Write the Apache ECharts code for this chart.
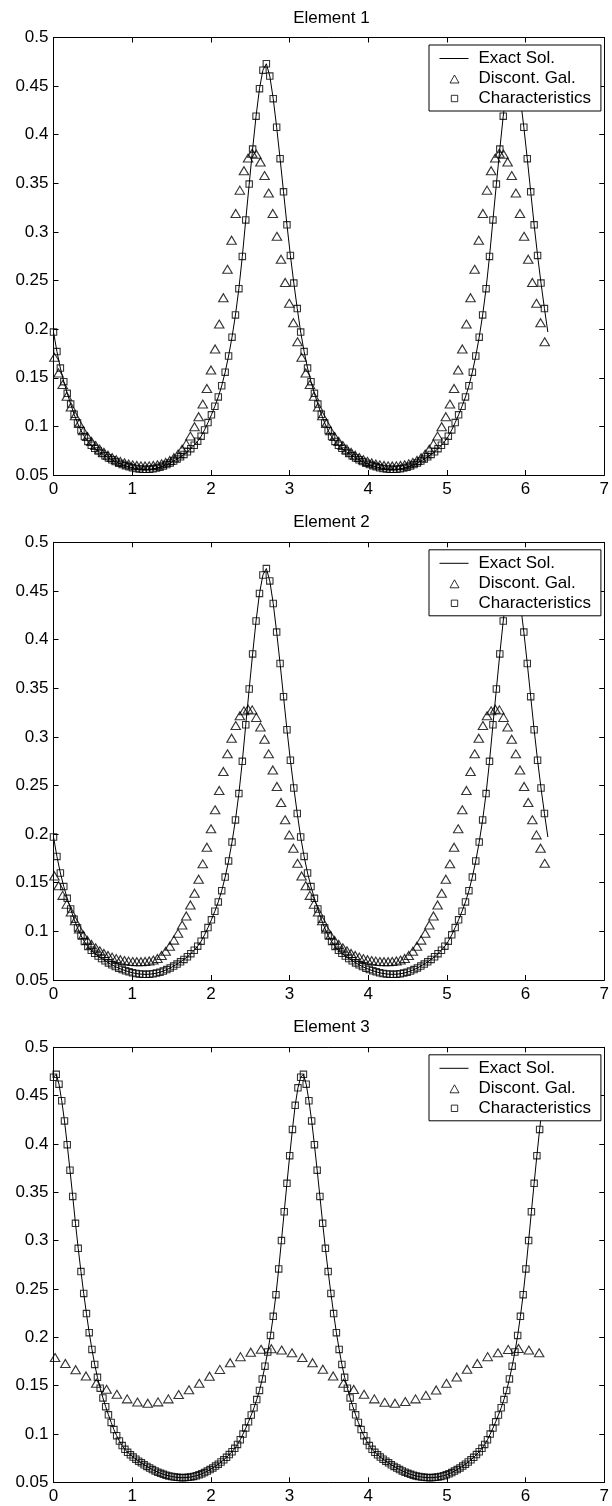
<!DOCTYPE html>
<html>
<head>
<meta charset="utf-8">
<script src="https://cdn.jsdelivr.net/npm/echarts@6/dist/echarts.min.js"></script>
<style>
html,body{margin:0;padding:0;background:#fff}
#c{width:612px;height:1506px}
</style>
</head>
<body>
<div id="c"></div>
<script>
// ---------------- data ----------------
const panelTitles = ['Element 1', 'Element 2', 'Element 3'];
const legendNames = ['Exact Sol.', 'Discont. Gal.', 'Characteristics'];
const xTickLabels = [0, 1, 2, 3, 4, 5, 6, 7];
const yTickLabels = [0.05, 0.1, 0.15, 0.2, 0.25, 0.3, 0.35, 0.4, 0.45, 0.5];

// uniform sampling grids (start, step) of the x positions
const exactStart12 = 0, exactStep12 = 2 * Math.PI / 144;
const exactStart3 = 0, exactStep3 = 2 * Math.PI / 180;
const galStart12 = 0.012, galStep12 = 2 * Math.PI / 120;
const galStart3 = 0.02, galStep3 = 2 * Math.PI / 48;

// exact solution (also the Characteristics values) for Element 1 and Element 2
const exactSol12 = [
0.197,0.177,0.160,0.146,0.134,0.123,0.1125,0.1035,0.0957,0.0895,
0.0845,0.0806,0.0774,0.0747,0.0721,0.0698,0.0676,0.0657,0.0638,0.0622,
0.0608,0.0595,0.0584,0.0574,0.0567,0.0562,0.0559,0.0558,0.0560,0.0564,
0.0571,0.0580,0.0592,0.0607,0.0624,0.0643,0.0664,0.0687,0.0712,0.0739,
0.0771,0.0806,0.0848,0.0899,0.0964,0.1039,0.1119,0.1207,0.1303,0.1418,
0.1558,0.1724,0.1918,0.2146,0.2417,0.2748,0.3124,0.3492,0.3852,0.4191,
0.4474,0.4664,0.4730,0.4603,0.4371,0.4077,0.3754,0.3413,0.3073,0.2759,
0.2474,0.2212,
0.197,0.177,0.160,0.146,0.134,0.123,0.1125,0.1035,0.0957,0.0895,
0.0845,0.0806,0.0774,0.0747,0.0721,0.0698,0.0676,0.0657,0.0638,0.0622,
0.0608,0.0595,0.0584,0.0574,0.0567,0.0562,0.0559,0.0558,0.0560,0.0564,
0.0571,0.0580,0.0592,0.0607,0.0624,0.0643,0.0664,0.0687,0.0712,0.0739,
0.0771,0.0806,0.0848,0.0899,0.0964,0.1039,0.1119,0.1207,0.1303,0.1418,
0.1558,0.1724,0.1918,0.2146,0.2417,0.2748,0.3124,0.3492,0.3852,0.4191,
0.4474,0.4664,0.4730,0.4603,0.4371,0.4077,0.3754,0.3413,0.3073,0.2759,
0.2474,0.2212,
0.197
];

// exact solution (also the Characteristics values) for Element 3
const exactSol3 = [
0.4690,0.4720,0.4619,0.4447,0.4238,0.3993,0.3729,0.3457,0.3179,0.2920,
0.2680,0.2454,0.2245,0.2048,0.1875,0.1719,0.1586,0.1474,0.1373,0.1282,
0.1198,0.1119,0.1045,0.0982,0.0927,0.0880,0.0841,0.0810,0.0784,0.0761,
0.0739,0.0719,0.0701,0.0681,0.0664,0.0648,0.0632,0.0618,0.0605,0.0593,
0.0583,0.0574,0.0566,0.0560,0.0555,0.0551,0.0549,0.0548,0.0549,0.0551,
0.0555,0.0561,0.0568,0.0577,0.0588,0.0601,0.0616,0.0632,0.0649,0.0668,
0.0688,0.0710,0.0733,0.0758,0.0787,0.0816,0.0851,0.0892,0.0940,0.0999,
0.1061,0.1126,0.1196,0.1271,0.1356,0.1450,0.1569,0.1701,0.1848,0.2019,
0.2217,0.2441,0.2707,0.3001,0.3299,0.3593,0.3879,0.4150,0.4400,0.4581,
0.4690,0.4720,0.4619,0.4447,0.4238,0.3993,0.3729,0.3457,0.3179,0.2920,
0.2680,0.2454,0.2245,0.2048,0.1875,0.1719,0.1586,0.1474,0.1373,0.1282,
0.1198,0.1119,0.1045,0.0982,0.0927,0.0880,0.0841,0.0810,0.0784,0.0761,
0.0739,0.0719,0.0701,0.0681,0.0664,0.0648,0.0632,0.0618,0.0605,0.0593,
0.0583,0.0574,0.0566,0.0560,0.0555,0.0551,0.0549,0.0548,0.0549,0.0551,
0.0555,0.0561,0.0568,0.0577,0.0588,0.0601,0.0616,0.0632,0.0649,0.0668,
0.0688,0.0710,0.0733,0.0758,0.0787,0.0816,0.0851,0.0892,0.0940,0.0999,
0.1061,0.1126,0.1196,0.1271,0.1356,0.1450,0.1569,0.1701,0.1848,0.2019,
0.2217,0.2441,0.2707,0.3001,0.3299,0.3593,0.3879,0.4150,0.4400,0.4581,
0.4690
];

// Discontinuous Galerkin values
const discGal1 = [
0.171,0.155,0.143,0.131,0.120,0.111,0.103,0.0955,0.0895,0.0845,
0.0803,0.0766,0.0733,0.0704,0.0679,0.0658,0.0640,0.0625,0.0613,0.0604,
0.0598,0.0594,0.0593,0.0594,0.0598,0.0605,0.0615,0.0630,0.0650,0.0678,
0.0715,0.0765,0.0820,0.0900,0.0997,0.1100,0.1230,0.1390,0.1580,0.1796,
0.2053,0.2324,0.2616,0.2915,0.3190,0.3430,0.3630,0.3760,0.3810,0.3800,
0.3720,0.3580,0.3400,0.3190,0.2955,0.2720,0.2480,0.2266,0.2067,0.1870,
0.171,0.155,0.143,0.131,0.120,0.111,0.103,0.0955,0.0895,0.0845,
0.0803,0.0766,0.0733,0.0704,0.0679,0.0658,0.0640,0.0625,0.0613,0.0604,
0.0598,0.0594,0.0593,0.0594,0.0598,0.0605,0.0615,0.0630,0.0650,0.0678,
0.0715,0.0765,0.0820,0.0900,0.0997,0.1100,0.1230,0.1390,0.1580,0.1796,
0.2053,0.2324,0.2616,0.2915,0.3190,0.3430,0.3630,0.3760,0.3810,0.3800,
0.3720,0.3580,0.3400,0.3190,0.2955,0.2720,0.2480,0.2266,0.2067,0.1870
];
const discGal2 = [
0.157,0.147,0.137,0.128,0.120,0.111,0.1025,0.0960,0.0907,0.0866,
0.0831,0.0800,0.0773,0.0752,0.0735,0.0720,0.0709,0.0700,0.0694,0.0690,
0.0688,0.0688,0.0691,0.0696,0.0705,0.0722,0.0752,0.0795,0.0848,0.0910,
0.0980,0.1066,0.1159,0.1272,0.1392,0.1536,0.1694,0.1865,0.2054,0.2250,
0.2449,0.2644,0.2826,0.2986,0.3116,0.3216,0.3267,0.3284,0.3277,0.3200,
0.3100,0.2976,0.2825,0.2660,0.2490,0.2325,0.2147,0.1992,0.1855,0.1700,
0.157,0.147,0.137,0.128,0.120,0.111,0.1025,0.0960,0.0907,0.0866,
0.0831,0.0800,0.0773,0.0752,0.0735,0.0720,0.0709,0.0700,0.0694,0.0690,
0.0688,0.0688,0.0691,0.0696,0.0705,0.0722,0.0752,0.0795,0.0848,0.0910,
0.0980,0.1066,0.1159,0.1272,0.1392,0.1536,0.1694,0.1865,0.2054,0.2250,
0.2449,0.2644,0.2826,0.2986,0.3116,0.3216,0.3267,0.3284,0.3277,0.3200,
0.3100,0.2976,0.2825,0.2660,0.2490,0.2325,0.2147,0.1992,0.1855,0.1700
];
const discGal3 = [
0.179,0.173,0.1665,0.160,0.1525,0.1462,0.1410,0.1363,0.1330,0.1318,
0.1332,0.1363,0.1408,0.1457,0.1524,0.1598,0.1668,0.1737,0.1800,0.1846,
0.1876,0.1882,0.1868,0.1840,
0.179,0.1737,0.167,0.160,0.1524,0.146,0.141,0.1363,0.1328,0.1318,
0.1335,0.1363,0.140,0.1455,0.1524,0.159,0.167,0.173,0.180,0.184,
0.1875,0.1885,0.1868,0.184
];

// ---------------- chart ----------------
const FONT = "'Liberation Sans', Arial, Helvetica, sans-serif";
const FS = 17;
const INK = '#000';

function toPairs(start, step, ys, count) {
  const n = count == null ? ys.length : count;
  return ys.slice(0, n).map((y, i) => [start + i * step, y]);
}

const panels = [
  { title: panelTitles[0], exact: toPairs(exactStart12, exactStep12, exactSol12),
    chars: toPairs(exactStart12, exactStep12, exactSol12, exactSol12.length - 1),
    gal: toPairs(galStart12, galStep12, discGal1), top: 37.5, height: 437.5 },
  { title: panelTitles[1], exact: toPairs(exactStart12, exactStep12, exactSol12),
    chars: toPairs(exactStart12, exactStep12, exactSol12, exactSol12.length - 1),
    gal: toPairs(galStart12, galStep12, discGal2), top: 542.3, height: 437.7 },
  { title: panelTitles[2], exact: toPairs(exactStart3, exactStep3, exactSol3),
    chars: toPairs(exactStart3, exactStep3, exactSol3, exactSol3.length - 1),
    gal: toPairs(galStart3, galStep3, discGal3), top: 1047.3, height: 435 }
];

const GRID_LEFT = 53.5, GRID_W = 555.8;
const lineIcon = 'path://M0,0M29,14M0,6.5L29,6.5L29,7.5L0,7.5Z';
const triIcon = 'path://M0,0M29,14M10.5,11.5L19.5,11.5L15,3.5Z';
const sqIcon = 'path://M0,0M29,14M11.8,3.8L18.2,3.8L18.2,10.2L11.8,10.2Z';

const grid = [], xAxis = [], yAxis = [], series = [], title = [], legend = [];
const yFmt = v => String(Math.round(v * 100) / 100);

panels.forEach((p, g) => {
  grid.push({ left: GRID_LEFT, top: p.top, width: GRID_W, height: p.height });
  const axisBase = {
    gridIndex: g, type: 'value',
    axisLine: { show: true, onZero: false, lineStyle: { color: INK, width: 1 } },
    axisTick: { show: true, inside: true, length: 5, lineStyle: { color: INK, width: 1 } },
    splitLine: { show: false }
  };
  const xRange = { min: xTickLabels[0], max: xTickLabels[xTickLabels.length - 1], interval: 1 };
  const yRange = { min: yTickLabels[0], max: yTickLabels[yTickLabels.length - 1], interval: 0.05 };
  xAxis.push(Object.assign({}, axisBase, xRange, {
    position: 'bottom',
    axisLabel: { show: true, margin: 6, color: INK, fontSize: FS, fontFamily: FONT }
  }));
  xAxis.push(Object.assign({}, axisBase, xRange, { position: 'top', axisLabel: { show: false } }));
  yAxis.push(Object.assign({}, axisBase, yRange, {
    position: 'left',
    axisLabel: { show: true, margin: 5, color: INK, fontSize: FS, fontFamily: FONT, formatter: yFmt }
  }));
  yAxis.push(Object.assign({}, axisBase, yRange, { position: 'right', axisLabel: { show: false } }));

  title.push({
    text: p.title, left: GRID_LEFT + GRID_W / 2, textAlign: 'center', top: p.top - 28, padding: 0,
    textStyle: { fontSize: FS, fontWeight: 'normal', color: INK, fontFamily: FONT }
  });

  series.push({
    type: 'line', name: legendNames[0], xAxisIndex: 2 * g, yAxisIndex: 2 * g,
    data: p.exact, symbol: 'none', lineStyle: { color: INK, width: 1 }, itemStyle: { color: INK },
    z: 2, silent: true
  });
  series.push({
    type: 'scatter', name: legendNames[1], xAxisIndex: 2 * g, yAxisIndex: 2 * g,
    data: p.gal, symbol: 'triangle', symbolSize: [9.5, 8],
    itemStyle: { color: 'rgba(255,255,255,0)', borderColor: INK, borderWidth: 1.1 },
    z: 3, silent: true
  });
  series.push({
    type: 'scatter', name: legendNames[2], xAxisIndex: 2 * g, yAxisIndex: 2 * g,
    data: p.chars, symbol: 'rect', symbolSize: 6.4,
    itemStyle: { color: 'rgba(255,255,255,0)', borderColor: INK, borderWidth: 1.1 },
    z: 3, silent: true
  });

  legend.push({
    orient: 'vertical', left: 429, top: p.top + 7.5,
    padding: [5, 10, 4, 10], itemGap: 3, itemWidth: 29, itemHeight: 14,
    backgroundColor: '#fff', borderColor: INK, borderWidth: 1, borderRadius: 0,
    selectedMode: false,
    textStyle: { fontSize: FS, color: INK, fontFamily: FONT, padding: [0, 0, 0, 5] },
    data: [
      { name: legendNames[0], icon: lineIcon, itemStyle: { color: INK, borderWidth: 0 } },
      { name: legendNames[1], icon: triIcon, itemStyle: { color: 'rgba(255,255,255,0)', borderColor: INK, borderWidth: 1 } },
      { name: legendNames[2], icon: sqIcon, itemStyle: { color: 'rgba(255,255,255,0)', borderColor: INK, borderWidth: 1 } }
    ]
  });
});

const chart = echarts.init(document.getElementById('c'), null, { renderer: 'canvas' });
chart.setOption({
  animation: false,
  backgroundColor: '#fff',
  title, legend, grid, xAxis, yAxis, series
});
</script>
</body>
</html>
